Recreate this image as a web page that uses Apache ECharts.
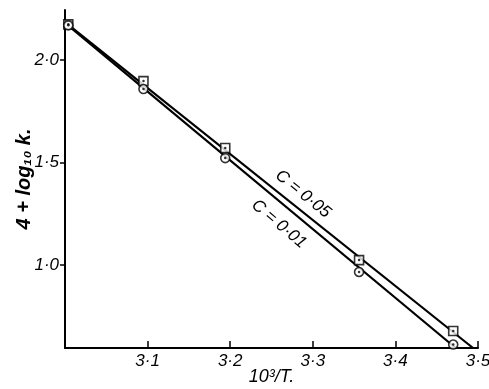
<!DOCTYPE html>
<html><head><meta charset="utf-8">
<script src="https://cdn.jsdelivr.net/npm/echarts@6/dist/echarts.min.js"></script>
<style>html,body{margin:0;padding:0;background:#fff}#c{width:489px;height:389px}</style>
</head><body><div id="c"></div>
<script>
const xVals = [3.004, 3.095, 3.194, 3.356, 3.470];
const yC005 = [2.175, 1.898, 1.571, 1.024, 0.678];
const yC001 = [2.170, 1.859, 1.522, 0.966, 0.612];
const fitC005 = [[3.0, 2.186], [3.494, 0.595]];
const fitC001 = [[3.0, 2.182], [3.473, 0.595]];
const xTicks = [3.1, 3.2, 3.3, 3.4, 3.5];
const yTicks = [1.0, 1.5, 2.0];
const seriesNames = ['C = 0·05', 'C = 0·01'];

const FONT = 'Liberation Sans';
const fmt = v => v.toFixed(1).replace('.', '·');
const pts = ys => xVals.map((x, i) => [x, ys[i]]);

const chart = echarts.init(document.getElementById('c'));
chart.setOption({
  animation: false,
  backgroundColor: '#fff',
  grid: {left: 65, right: 11, top: 10, bottom: 41, containLabel: false, outerBoundsMode: 'none'},
  xAxis: {
    type: 'value', min: 3.0, max: 3.5, interval: 0.1,
    axisLine: {lineStyle: {color: '#000', width: 2}},
    axisTick: {inside: true, length: 7, customValues: xTicks, lineStyle: {color: '#000', width: 1.5}},
    axisLabel: {customValues: xTicks, formatter: fmt, color: '#000', fontFamily: FONT, fontStyle: 'italic', fontSize: 17, margin: 5},
    splitLine: {show: false},
    name: '10³/T.', nameLocation: 'middle', nameGap: 20, nameMoveOverlap: false,
    nameTextStyle: {color: '#000', fontFamily: FONT, fontStyle: 'italic', fontSize: 18}
  },
  yAxis: {
    type: 'value', min: 0.595, max: 2.245,
    axisLine: {show: true, lineStyle: {color: '#000', width: 2}},
    axisTick: {show: true, length: 5, customValues: yTicks, lineStyle: {color: '#000', width: 1.5}},
    axisLabel: {customValues: yTicks, formatter: fmt, color: '#000', fontFamily: FONT, fontStyle: 'italic', fontSize: 17, margin: 6},
    splitLine: {show: false},
    name: '4 + log₁₀ k.', nameLocation: 'middle', nameGap: 31, nameRotate: 90, nameMoveOverlap: false,
    nameTextStyle: {color: '#000', fontFamily: FONT, fontStyle: 'italic', fontWeight: 'bold', fontSize: 20}
  },
  series: [
    {type: 'line', data: fitC005, symbol: 'none', lineStyle: {color: '#000', width: 2.2}, z: 2},
    {type: 'line', data: fitC001, symbol: 'none', lineStyle: {color: '#000', width: 2.2}, z: 2},
    {type: 'scatter', name: seriesNames[0], data: pts(yC005), symbol: 'rect', symbolSize: 9,
     itemStyle: {color: '#fff', borderColor: '#000', borderWidth: 1.6}, z: 3},
    {type: 'scatter', name: seriesNames[1], data: pts(yC001), symbol: 'circle', symbolSize: 9,
     itemStyle: {color: '#fff', borderColor: '#000', borderWidth: 1.6}, z: 3},
    {type: 'scatter', data: pts(yC005).concat(pts(yC001)), symbol: 'circle', symbolSize: 2.5,
     itemStyle: {color: '#000'}, z: 4}
  ],
  graphic: [
    {type: 'text', x: 303, y: 194, rotation: -0.68,
     style: {text: seriesNames[0], font: 'italic 17px "Liberation Sans"', fill: '#000', align: 'center', verticalAlign: 'middle'}},
    {type: 'text', x: 279, y: 224, rotation: -0.70,
     style: {text: seriesNames[1], font: 'italic 17px "Liberation Sans"', fill: '#000', align: 'center', verticalAlign: 'middle'}}
  ]
});
</script></body></html>
